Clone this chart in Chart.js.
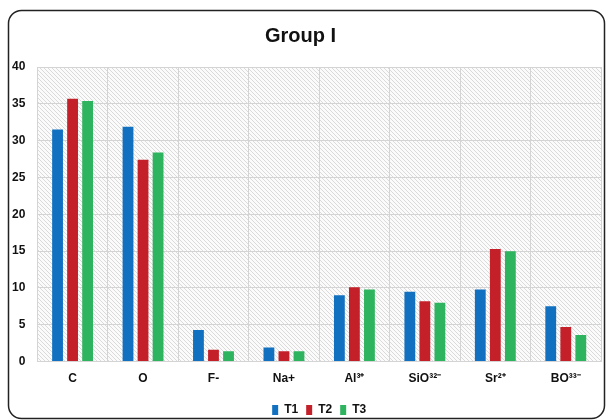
<!DOCTYPE html>
<html><head><meta charset="utf-8">
<script src="https://cdn.jsdelivr.net/npm/chart.js@4"></script>
<style>html,body{margin:0;padding:0;background:#fff}#wrap{width:607px;height:420px}</style>
</head><body><div id="wrap"><canvas id="c" width="607" height="420"></canvas></div>
<script>
const categories = ["C", "O", "F-", "Na+", "Al³⁺", "SiO³²⁻", "Sr²⁺", "BO³³⁻"];
const seriesNames = ["T1", "T2", "T3"];
const t1 = [31.5, 31.9, 4.3, 1.9, 9.0, 9.5, 9.8, 7.5];
const t2 = [35.7, 27.4, 1.6, 1.4, 10.1, 8.2, 15.3, 4.7];
const t3 = [35.4, 28.4, 1.4, 1.4, 9.8, 8.0, 15.0, 3.6];
const yTicks = [0, 5, 10, 15, 20, 25, 30, 35, 40];
const colors = ["#1170C0", "#C4202A", "#2EB35E"];

const FONT = "'Liberation Sans',Arial,sans-serif";

function hatch(ctx){
  const p = document.createElement('canvas'); p.width = 4; p.height = 4;
  const g = p.getContext('2d');
  g.fillStyle = '#fbfbfb'; g.fillRect(0,0,4,4);
  g.strokeStyle = '#dadada'; g.lineWidth = 1;
  g.beginPath(); g.moveTo(-1,-1); g.lineTo(5,5); g.moveTo(-1,3); g.lineTo(1,5); g.moveTo(3,-1); g.lineTo(5,1); g.stroke();
  return ctx.createPattern(p, 'repeat');
}

const bgPlugin = {
  id: 'bg',
  beforeDraw(chart){
    const ctx = chart.ctx, a = chart.chartArea;
    ctx.save();
    ctx.fillStyle = '#fff'; ctx.fillRect(0,0,chart.width,chart.height);
    ctx.strokeStyle = '#222'; ctx.lineWidth = 1.5;
    ctx.beginPath(); ctx.roundRect(8.5, 10.5, 596, 408, 13); ctx.stroke();
    ctx.fillStyle = hatch(ctx);
    ctx.fillRect(a.left, a.top, a.right - a.left, a.bottom - a.top);
    ctx.restore();
  }
};

new Chart(document.getElementById('c'), {
  type: 'bar',
  data: {
    labels: categories,
    datasets: [t1, t2, t3].map((d, i) => ({
      label: seriesNames[i], data: d, backgroundColor: colors[i],
      categoryPercentage: 0.64, barPercentage: 0.72
    }))
  },
  options: {
    responsive: false, animation: false,
    layout: { padding: { left: 0, right: 6, top: 10, bottom: -6 } },
    plugins: {
      title: { display: true, text: 'Group I', color: '#111', font: { family: FONT, size: 20, weight: 'bold' }, padding: { top: 14, bottom: 19 } },
      legend: { position: 'bottom', fullSize: false, labels: { boxWidth: 6, boxHeight: 10, color: '#111', font: { family: FONT, size: 12, weight: 'bold' }, padding: 8 } },
      tooltip: { enabled: false }
    },
    scales: {
      x: {
        grid: { color: '#d4d4d4', lineWidth: 1, offset: true, drawTicks: false },
        border: { color: '#d4d4d4' },
        ticks: { color: '#111', font: { family: FONT, size: 12, weight: 'bold' }, padding: 10 }
      },
      y: {
        min: 0, max: 40,
        afterBuildTicks(s){ s.ticks = yTicks.map(v => ({ value: v })); },
        grid: { color: '#d4d4d4', lineWidth: 1, drawTicks: false },
        border: { color: '#d4d4d4' },
        ticks: { color: '#111', font: { family: FONT, size: 12, weight: 'bold' }, padding: 12 }
      }
    }
  },
  plugins: [bgPlugin]
});
</script></body></html>
